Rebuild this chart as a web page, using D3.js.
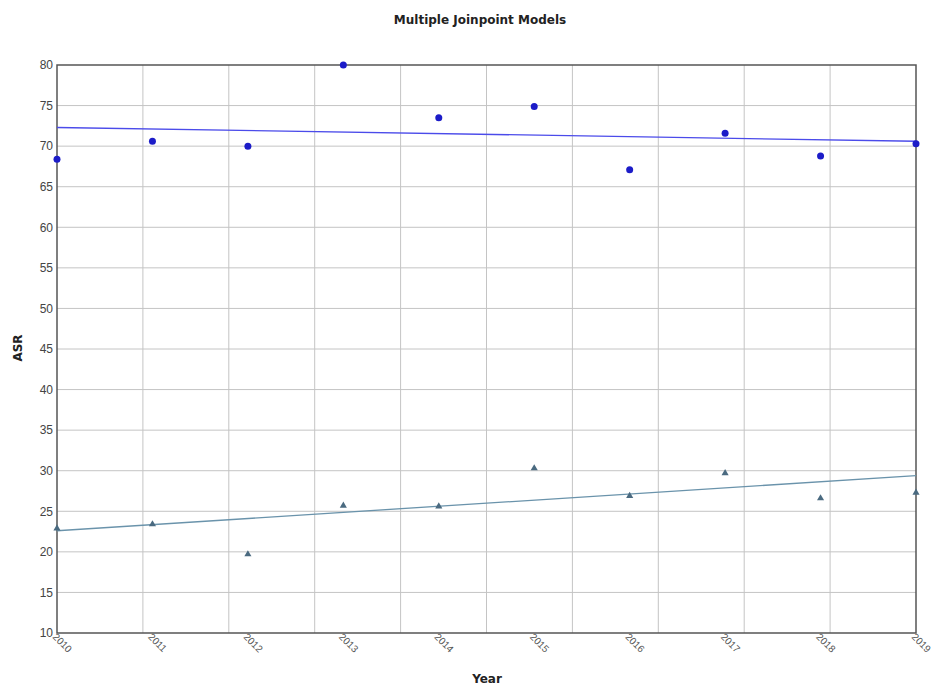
<!DOCTYPE html>
<html>
<head>
<meta charset="utf-8">
<script src="https://cdn.jsdelivr.net/npm/d3@7"></script>
<style>
  body { margin: 0; background: #fff; }
  svg { display: block; font-family: "DejaVu Sans", Verdana, sans-serif; }
</style>
</head>
<body>
<svg id="chart" width="932" height="687"></svg>
<script>
// Observed age-standardised rates by year, with fitted joinpoint trend lines
const years = [2010, 2011, 2012, 2013, 2014, 2015, 2016, 2017, 2018, 2019];
const seriesA = [68.4, 70.6, 70.0, 80.0, 73.5, 74.9, 67.1, 71.6, 68.8, 70.3];
const seriesB = [22.9, 23.4, 19.7, 25.7, 25.6, 30.3, 26.9, 29.7, 26.6, 27.3];
const fitA = [[2010, 72.3], [2019, 70.6]];
const fitB = [[2010, 22.6], [2019, 29.4]];
const yTicks = [10, 15, 20, 25, 30, 35, 40, 45, 50, 55, 60, 65, 70, 75, 80];

const svg = d3.select("#chart");
const margin = { left: 57, right: 16, top: 65, bottom: 54 };
const W = 932, H = 687;
const x = d3.scaleLinear().domain([2010, 2019]).range([margin.left, W - margin.right]);
const y = d3.scaleLinear().domain([10, 80]).range([H - margin.bottom, margin.top]);

// vertical grid splits the plot into ten equal bands
const xGrid = d3.range(1, 10).map(i => 2010 + i * (2019 - 2010) / 10);

const g = svg.append("g");

// horizontal grid
g.selectAll(".hgrid").data(yTicks.slice(1, -1)).join("line")
  .attr("x1", x(2010)).attr("x2", x(2019))
  .attr("y1", d => y(d)).attr("y2", d => y(d))
  .attr("stroke", "#c4c4c4").attr("stroke-width", 1);

// vertical grid
g.selectAll(".vgrid").data(xGrid).join("line")
  .attr("x1", d => x(d)).attr("x2", d => x(d))
  .attr("y1", y(80)).attr("y2", y(10))
  .attr("stroke", "#c4c4c4").attr("stroke-width", 1);

// frame
g.append("rect")
  .attr("x", x(2010)).attr("y", y(80))
  .attr("width", x(2019) - x(2010)).attr("height", y(10) - y(80))
  .attr("fill", "none").attr("stroke", "#555").attr("stroke-width", 1.5);

// y axis
const yAxis = d3.axisLeft(y).tickValues(yTicks).tickSize(0).tickPadding(4);
const ya = svg.append("g").attr("transform", `translate(${x(2010)},0)`).call(yAxis);
ya.select(".domain").remove();
ya.selectAll("text").attr("font-size", 12).attr("fill", "#444");

// x axis with slanted year labels
const xAxis = d3.axisBottom(x).tickValues(years).tickFormat(d3.format("d")).tickSize(0);
const xa = svg.append("g").attr("transform", `translate(0,${y(10)})`).call(xAxis);
xa.select(".domain").remove();
xa.selectAll("text")
  .attr("font-size", 10).attr("fill", "#555")
  .attr("text-anchor", "start")
  .attr("transform", "translate(-3,2) rotate(45)")
  .attr("y", 0).attr("x", 0).attr("dy", "0.35em");

// trend lines
const line = d3.line().x(d => x(d[0])).y(d => y(d[1]));
g.append("path").datum(fitA).attr("d", line)
  .attr("fill", "none").attr("stroke", "#4b4bea").attr("stroke-width", 1.3);
g.append("path").datum(fitB).attr("d", line)
  .attr("fill", "none").attr("stroke", "#6a93ab").attr("stroke-width", 1.3);

// observed points
g.selectAll(".ptA").data(years.map((yr, i) => [yr, seriesA[i]])).join("circle")
  .attr("cx", d => x(d[0])).attr("cy", d => y(d[1])).attr("r", 3.5)
  .attr("fill", "#1c1cc8");

const tri = d3.symbol().type(d3.symbolTriangle).size(22);
g.selectAll(".ptB").data(years.map((yr, i) => [yr, seriesB[i]])).join("path")
  .attr("d", tri)
  .attr("transform", d => `translate(${x(d[0])},${y(d[1])})`)
  .attr("fill", "#4a6a80");

// titles
svg.append("text").attr("x", 480).attr("y", 24).attr("text-anchor", "middle")
  .attr("font-size", 12).attr("font-weight", "bold").attr("fill", "#222")
  .text("Multiple Joinpoint Models");
svg.append("text").attr("x", 487).attr("y", 683).attr("text-anchor", "middle")
  .attr("font-size", 12).attr("font-weight", "bold").attr("fill", "#222")
  .text("Year");
svg.append("text").attr("transform", "translate(22,348) rotate(-90)")
  .attr("text-anchor", "middle")
  .attr("font-size", 12).attr("font-weight", "bold").attr("fill", "#222")
  .text("ASR");
</script>
</body>
</html>
